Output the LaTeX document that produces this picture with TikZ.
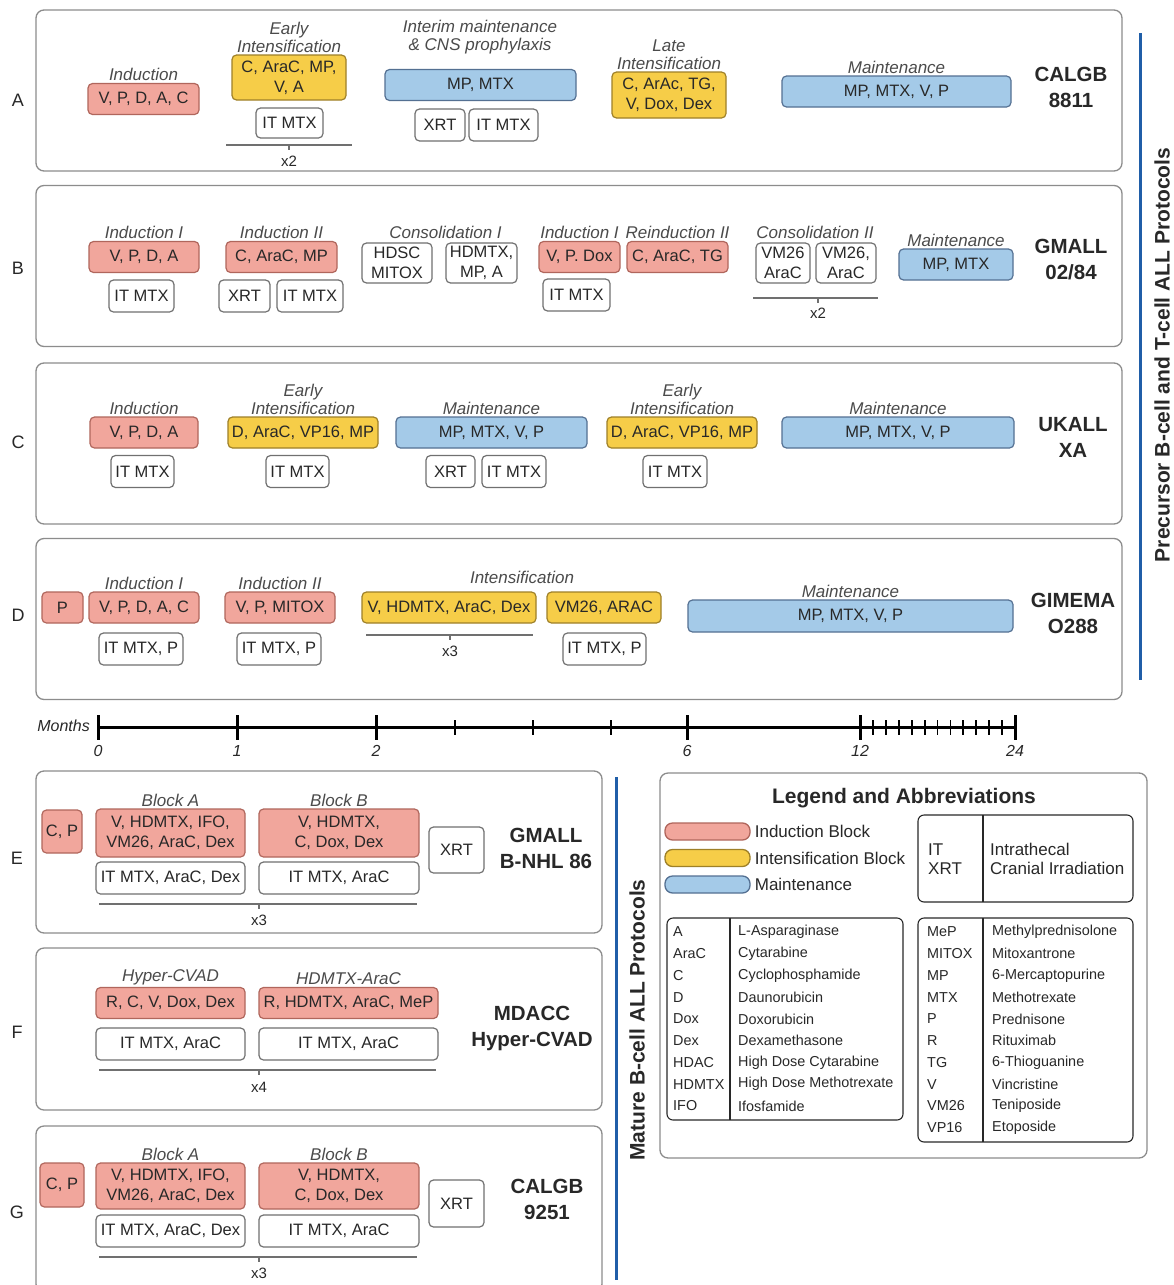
\documentclass[tikz,border=0pt]{standalone}
\usepackage{fontspec}
\setmainfont{Liberation Sans}
\usepackage{xcolor}
\usepackage{tikz}
\usetikzlibrary{positioning}
\definecolor{indFill}{RGB}{241,166,156}
\definecolor{indDraw}{RGB}{176,102,92}
\definecolor{intFill}{RGB}{246,205,72}
\definecolor{intDraw}{RGB}{158,128,40}
\definecolor{mntFill}{RGB}{164,202,232}
\definecolor{mntDraw}{RGB}{84,112,146}
\definecolor{boxDraw}{RGB}{112,112,112}
\definecolor{frameDraw}{RGB}{140,140,140}
\definecolor{sideBlue}{RGB}{32,94,168}
\definecolor{txtDark}{RGB}{40,40,40}
\definecolor{phaseGray}{RGB}{75,75,75}
\newcommand{\boxfs}{\fontsize{16.5}{20}\selectfont}
\newcommand{\phasefs}{\fontsize{17}{18}\selectfont\itshape}
\newcommand{\namefs}{\fontsize{20.5}{26}\selectfont\bfseries}
\newcommand{\tabfs}{\fontsize{14.4}{16}\selectfont}

\begin{document}
\begin{tikzpicture}[
    x=1pt, y=-1pt,
    protoframe/.style={draw=frameDraw, fill=white, rounded corners=8pt, line width=1.3pt},
    blk/.style={rounded corners=4.5pt, line width=1.2pt, align=center, font=\boxfs,
      text=txtDark, inner sep=1.5pt, minimum height=31pt},
    ind/.style={blk, draw=indDraw, fill=indFill},
    intens/.style={blk, draw=intDraw, fill=intFill},
    maint/.style={blk, draw=mntDraw, fill=mntFill},
    itbox/.style={blk, draw=boxDraw, fill=white, minimum height=32pt},
    phaselab/.style={font=\phasefs, text=phaseGray, align=center, inner sep=1pt},
    protoname/.style={font=\namefs, text=txtDark, align=center},
    rowlab/.style={font=\fontsize{18}{18}\selectfont, text=txtDark},
    rep/.style={draw=boxDraw, line width=1.1pt},
    repn/.style={font=\fontsize{15}{15}\selectfont, text=txtDark, inner sep=1pt},
    monthno/.style={font=\fontsize{16}{16}\selectfont\itshape, text=txtDark},
    sidelab/.style={rotate=90, font=\fontsize{21}{21}\selectfont\bfseries, text=txtDark},
    sideline/.style={draw=sideBlue, line width=3pt},
    pill/.style={rounded corners=7.5pt, line width=1.3pt, minimum width=85pt, minimum height=17pt},
    legtxt/.style={font=\fontsize{17}{19}\selectfont, text=txtDark, align=left, inner sep=0pt},
    abbr/.style={anchor=west, font=\tabfs, text=txtDark, inner sep=0pt},
    tabframe/.style={draw=txtDark, rounded corners=6pt, line width=1.1pt}
  ]
    \fill[white] (0,0) rectangle (1173,1285);
    \useasboundingbox (0,0) rectangle (1173,1285);

    % precursor protocols
    \foreach \n/\y/\ly in {A/90.5/100, B/266/268, C/443.5/442, D/619/615}{
      \node[protoframe, minimum width=1086pt, minimum height=161pt] (fr\n) at (579,\y) {};
      \node[rowlab] (lab\n) at (18,\ly) {\n};
    }

    \node[ind, minimum width=111pt] (aInd) at (143.5,99) {V, P, D, A, C};
    \node[phaselab, above=1pt of aInd] (aIndL) {Induction};
    \node[intens, minimum width=114pt, minimum height=45pt] (aEI) at (289,77.5) {C, AraC, MP,\\V, A};
    \node[phaselab, above=1pt of aEI] (aEIL) {Early\\Intensification};
    \node[itbox, minimum width=67pt, minimum height=30pt] (aEIit) at (289.5,123) {IT MTX};
    \draw[rep] (226,145) -- (352,145) (289,145) -- (289,150);
    \node[repn] (aRep) at (289,161) {x2};
    \node[maint, minimum width=191pt] (aIM) at (480.5,85) {MP, MTX};
    \node[phaselab] (aIML) at (480,37) {Interim maintenance\\\& CNS prophylaxis};
    \node[itbox, minimum width=50pt] (aXRT) at (440,125) {XRT};
    \node[itbox, minimum width=69pt] (aIMit) at (503.5,125) {IT MTX};
    \node[intens, minimum width=114pt, minimum height=46pt] (aLI) at (669,95) {C, ArAc, TG,\\V, Dox, Dex};
    \node[phaselab, above=1pt of aLI] (aLIL) {Late\\Intensification};
    \node[maint, minimum width=229pt] (aMnt) at (896.5,91.5) {MP, MTX, V, P};
    \node[phaselab, above=1pt of aMnt] (aMntL) {Maintenance};
    \node[protoname] (aName) at (1071,87) {CALGB\\8811};

    \node[ind, minimum width=110pt] (bInd1) at (144,257) {V, P, D, A};
    \node[phaselab, above=1pt of bInd1] (bInd1L) {Induction I};
    \node[itbox, minimum width=65pt] (bInd1it) at (141.5,296) {IT MTX};
    \node[ind, minimum width=111pt] (bInd2) at (281.5,257) {C, AraC, MP};
    \node[phaselab, above=1pt of bInd2] (bInd2L) {Induction II};
    \node[itbox, minimum width=51pt] (bXRT) at (244.5,296) {XRT};
    \node[itbox, minimum width=66pt] (bInd2it) at (310,296) {IT MTX};
    \node[itbox, minimum width=70pt, minimum height=40pt] (bCon1a) at (397,263) {HDSC\\MITOX};
    \node[itbox, minimum width=71pt, minimum height=40pt] (bCon1b) at (481.5,263) {HDMTX,\\MP, A};
    \node[phaselab] (bCon1L) at (445.5,232) {Consolidation I};
    \node[ind, minimum width=81pt] (bInd3) at (579.5,257) {V, P. Dox};
    \node[phaselab, above=1pt of bInd3] (bInd3L) {Induction I};
    \node[itbox, minimum width=67pt] (bInd3it) at (576.5,295) {IT MTX};
    \node[ind, minimum width=101pt] (bRei) at (677.5,257) {C, AraC, TG};
    \node[phaselab, above=1pt of bRei] (bReiL) {Reinduction II};
    \node[itbox, minimum width=54pt, minimum height=40pt] (bCon2a) at (783,263) {VM26\\AraC};
    \node[itbox, minimum width=60pt, minimum height=40pt] (bCon2b) at (846,263) {VM26,\\AraC};
    \node[phaselab] (bCon2L) at (815,232) {Consolidation II};
    \draw[rep] (753,298) -- (878,298) (818,298) -- (818,303);
    \node[repn] (bRep) at (818,313) {x2};
    \node[maint, minimum width=114pt] (bMnt) at (956,264.5) {MP, MTX};
    \node[phaselab, above=1pt of bMnt] (bMntL) {Maintenance};
    \node[protoname] (bName) at (1071,260) {GMALL\\02/84};

    \node[ind, minimum width=108pt] (cInd) at (144,432.5) {V, P, D, A};
    \node[phaselab, above=1pt of cInd] (cIndL) {Induction};
    \node[itbox, minimum width=63pt] (cIndit) at (142.5,471.5) {IT MTX};
    \node[intens, minimum width=150pt] (cEI) at (303,432.5) {D, AraC, VP16, MP};
    \node[phaselab, above=1pt of cEI] (cEIL) {Early\\Intensification};
    \node[itbox, minimum width=63pt] (cEIit) at (297.5,471.5) {IT MTX};
    \node[maint, minimum width=191pt] (cMnt) at (491.5,432.5) {MP, MTX, V, P};
    \node[phaselab, above=1pt of cMnt] (cMntL) {Maintenance};
    \node[itbox, minimum width=49pt] (cXRT) at (450.5,471.5) {XRT};
    \node[itbox, minimum width=64pt] (cMntit) at (514,471.5) {IT MTX};
    \node[intens, minimum width=150pt] (cEI2) at (682,432.5) {D, AraC, VP16, MP};
    \node[phaselab, above=1pt of cEI2] (cEI2L) {Early\\Intensification};
    \node[itbox, minimum width=64pt] (cEI2it) at (675,471.5) {IT MTX};
    \node[maint, minimum width=232pt] (cMnt2) at (898,432.5) {MP, MTX, V, P};
    \node[phaselab, above=1pt of cMnt2] (cMnt2L) {Maintenance};
    \node[protoname] (cName) at (1073,437) {UKALL\\XA};

    \node[ind, minimum width=41pt] (dP) at (62.5,607.5) {P};
    \node[ind, minimum width=110pt] (dInd1) at (144,607.5) {V, P, D, A, C};
    \node[phaselab, above=1pt of dInd1] (dInd1L) {Induction I};
    \node[itbox, minimum width=84pt] (dInd1it) at (141,649) {IT MTX, P};
    \node[ind, minimum width=110pt] (dInd2) at (280,607.5) {V, P, MITOX};
    \node[phaselab, above=1pt of dInd2] (dInd2L) {Induction II};
    \node[itbox, minimum width=84pt] (dInd2it) at (279,649) {IT MTX, P};
    \node[intens, minimum width=174pt] (dInt) at (449,607.5) {V, HDMTX, AraC, Dex};
    \node[intens, minimum width=114pt] (dVM) at (604,607.5) {VM26, ARAC};
    \node[phaselab] (dIntL) at (522,577) {Intensification};
    \draw[rep] (366,635) -- (533,635) (450,635) -- (450,640);
    \node[repn] (dRep) at (450,651) {x3};
    \node[itbox, minimum width=83pt] (dVMit) at (604.5,649) {IT MTX, P};
    \node[maint, minimum width=325pt, minimum height=32pt] (dMnt) at (850.5,616) {MP, MTX, V, P};
    \node[phaselab, above=1pt of dMnt] (dMntL) {Maintenance};
    \node[protoname] (dName) at (1073,613.5) {GIMEMA\\O288};

    \draw[sideline] (1140,33) -- (1140,680);
    \node[sidelab] (preLab) at (1162,355) {Precursor B-cell and T-cell ALL Protocols};

    % months axis
    \node[monthno, anchor=east, inner sep=1pt] (months) at (91,726) {Months};
    \draw[line width=3pt] (98,727) -- (1015,727);
    \foreach \x/\m in {98/0, 237/1, 376/2, 687/6, 860/12, 1015/24}{
      \draw[line width=3pt] (\x,715) -- (\x,740);
      \node[monthno] (mo\m) at (\x,751) {\m};
    }
    \foreach \x in {455, 533, 611}
      \draw[line width=1.8pt] (\x,720) -- (\x,735);
    \foreach \k in {1,...,11}
      \draw[line width=1.8pt] ({860+\k*12.92},720) -- ({860+\k*12.92},735);

    % mature protocols
    \foreach \n/\y/\h/\ly in {E/852/162/858, F/1029/162/1032, G/1209/166/1212}{
      \node[protoframe, minimum width=566pt, minimum height=\h pt] (fr\n) at (319,\y) {};
      \node[rowlab] (lab\n) at (17,\ly) {\n};
    }

    \node[ind, minimum width=40pt, minimum height=43pt] (eCP) at (62,831.5) {C, P};
    \node[ind, minimum width=149pt, minimum height=48pt] (eA) at (170.5,833) {V, HDMTX, IFO,\\VM26, AraC, Dex};
    \node[phaselab, above=1pt of eA] (eAL) {Block A};
    \node[ind, minimum width=160pt, minimum height=48pt] (eB) at (339,833) {V, HDMTX,\\C, Dox, Dex};
    \node[phaselab, above=1pt of eB] (eBL) {Block B};
    \node[itbox, minimum width=149pt] (eAit) at (170.5,878) {IT MTX, AraC, Dex};
    \node[itbox, minimum width=160pt] (eBit) at (339,878) {IT MTX, AraC};
    \draw[rep] (99,904) -- (417,904) (259,904) -- (259,909);
    \node[repn] (eRep) at (259,920) {x3};
    \node[itbox, minimum width=55pt, minimum height=46pt] (eXRT) at (456.5,850) {XRT};
    \node[protoname] (eName) at (546,848) {GMALL\\B-NHL 86};

    \node[ind, minimum width=149pt] (fA) at (170.5,1003) {R, C, V, Dox, Dex};
    \node[phaselab, above=1pt of fA] (fAL) {Hyper-CVAD};
    \node[ind, minimum width=179pt] (fB) at (348.5,1003) {R, HDMTX, AraC, MeP};
    \node[phaselab, above=1pt of fB] (fBL) {HDMTX-AraC};
    \node[itbox, minimum width=149pt] (fAit) at (170.5,1044) {IT MTX, AraC};
    \node[itbox, minimum width=179pt] (fBit) at (348.5,1044) {IT MTX, AraC};
    \draw[rep] (99,1070) -- (436,1070) (259,1070) -- (259,1075);
    \node[repn] (fRep) at (259,1087) {x4};
    \node[protoname] (fName) at (532,1028) {MDACC\\Hyper-CVAD};

    \node[ind, minimum width=44pt, minimum height=44pt] (gCP) at (62,1185) {C, P};
    \node[ind, minimum width=149pt, minimum height=46pt] (gA) at (170.5,1186) {V, HDMTX, IFO,\\VM26, AraC, Dex};
    \node[phaselab, above=1pt of gA] (gAL) {Block A};
    \node[ind, minimum width=160pt, minimum height=46pt] (gB) at (339,1186) {V, HDMTX,\\C, Dox, Dex};
    \node[phaselab, above=1pt of gB] (gBL) {Block B};
    \node[itbox, minimum width=149pt] (gAit) at (170.5,1231) {IT MTX, AraC, Dex};
    \node[itbox, minimum width=160pt] (gBit) at (339,1231) {IT MTX, AraC};
    \draw[rep] (99,1257) -- (417,1257) (259,1257) -- (259,1262);
    \node[repn] (gRep) at (259,1273) {x3};
    \node[itbox, minimum width=55pt, minimum height=47pt] (gXRT) at (456.5,1203.5) {XRT};
    \node[protoname] (gName) at (547,1199) {CALGB\\9251};

    \draw[sideline] (616,777) -- (616,1280);
    \node[sidelab] (matLab) at (637,1020) {Mature B-cell ALL Protocols};

    % legend
    \node[protoframe, minimum width=487pt, minimum height=385pt] (legend) at (903.5,965.5) {};
    \node[font=\fontsize{21}{21}\selectfont\bfseries, text=txtDark] (legTitle) at (904,798) {Legend and Abbreviations};
    \foreach \f/\d/\t [count=\i from 0] in {indFill/indDraw/Induction Block, intFill/intDraw/Intensification Block, mntFill/mntDraw/Maintenance}{
      \node[pill, fill=\f, draw=\d] (pill\i) at (707.5,{831.5+26.5*\i}) {};
      \node[legtxt, right=4pt of pill\i] (pillL\i) {\t};
    }
    \node[tabframe, minimum width=215pt, minimum height=87pt] (itTab) at (1025.5,858.5) {};
    \draw[tabframe] (983,815) -- (983,902);
    \node[legtxt, anchor=west] (itAb) at (928,859) {IT\\XRT};
    \node[legtxt, anchor=west] (itNm) at (990,859) {Intrathecal\\Cranial Irradiation};

    \node[tabframe, minimum width=236pt, minimum height=202pt] (lTab) at (785,1019) {};
    \draw[tabframe] (730,918) -- (730,1120);
    \foreach \ab/\nm [count=\i from 0] in {A/L-Asparaginase, AraC/Cytarabine, C/Cyclophosphamide,
        D/Daunorubicin, Dox/Doxorubicin, Dex/Dexamethasone, HDAC/High Dose Cytarabine,
        HDMTX/High Dose Methotrexate, IFO/Ifosfamide}{
      \node[abbr] (abL\i) at (673,{932+21.75*\i}) {\ab};
      \node[abbr] (nmL\i) at (738,{932+21.75*\i}) {\nm};
    }
    \node[tabframe, minimum width=215pt, minimum height=224pt] (rTab) at (1025.5,1030) {};
    \draw[tabframe] (983,918) -- (983,1142);
    \foreach \ab/\nm [count=\i from 0] in {MeP/Methylprednisolone, MITOX/Mitoxantrone,
        MP/6-Mercaptopurine, MTX/Methotrexate, P/Prednisone, R/Rituximab, TG/6-Thioguanine,
        V/Vincristine, VM26/Teniposide, VP16/Etoposide}{
      \node[abbr] (abR\i) at (927,{932+21.75*\i}) {\ab};
      \node[abbr] (nmR\i) at (992,{932+21.75*\i}) {\nm};
    }
\end{tikzpicture}
\end{document}
